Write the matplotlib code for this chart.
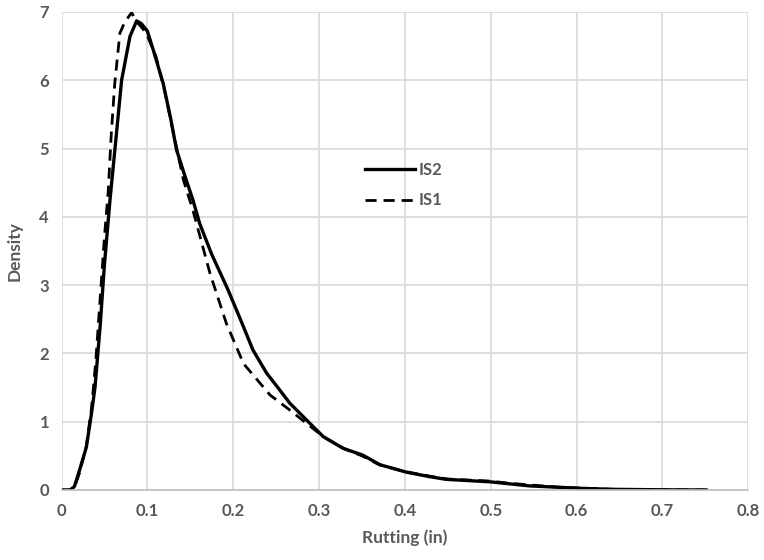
import numpy as np
import matplotlib.pyplot as plt

# IS2 (solid) density curve
is2_x = [0, 0.01, 0.015, 0.021, 0.029, 0.035, 0.039, 0.045, 0.05, 0.0565, 0.0623, 0.070,
         0.0797, 0.0875, 0.093, 0.1, 0.107, 0.1185, 0.127, 0.134, 0.145, 0.153, 0.161, 0.175,
         0.194, 0.21, 0.223, 0.239, 0.252, 0.266, 0.289, 0.305, 0.328, 0.351, 0.371,
         0.402, 0.429, 0.448, 0.499, 0.545, 0.604, 0.642, 0.70, 0.751]
is2_y = [0, 0, 0.05, 0.29, 0.63, 1.13, 1.5, 2.4, 3.3, 4.25, 5.0, 6.0,
         6.64, 6.87, 6.83, 6.72, 6.44, 5.95, 5.45, 4.98, 4.55, 4.25, 3.9, 3.45,
         2.93, 2.45, 2.05, 1.71, 1.5, 1.27, 0.98, 0.78, 0.61, 0.51, 0.37,
         0.26, 0.195, 0.156, 0.12, 0.06, 0.025, 0.01, 0.003, 0]

# IS1 (dashed) density curve
is1_x = [0, 0.01, 0.015, 0.021, 0.029, 0.035, 0.04, 0.045, 0.05, 0.0545, 0.058, 0.062,
         0.068, 0.074, 0.0817, 0.088, 0.095, 0.1, 0.11, 0.12, 0.13, 0.142, 0.153, 0.173,
         0.192, 0.212, 0.243, 0.266, 0.285, 0.305, 0.33, 0.35, 0.37, 0.40, 0.43, 0.45,
         0.50, 0.52, 0.55, 0.58, 0.60, 0.64, 0.70, 0.75]
is1_y = [0, 0, 0.04, 0.25, 0.65, 1.2, 1.9, 2.8, 3.7, 4.39, 5.22, 5.95,
         6.69, 6.86, 6.99, 6.85, 6.75, 6.65, 6.35, 5.85, 5.25, 4.54, 4.1, 3.17,
         2.44, 1.85, 1.39, 1.17, 0.98, 0.78, 0.6, 0.5, 0.37, 0.27, 0.2, 0.16,
         0.13, 0.1, 0.07, 0.04, 0.03, 0.01, 0.003, 0]

xticks = [0, 0.1, 0.2, 0.3, 0.4, 0.5, 0.6, 0.7, 0.8]
yticks = [0, 1, 2, 3, 4, 5, 6, 7]

plt.rcParams['font.family'] = ['Lato', 'DejaVu Sans']
txt = '#595959'

fig = plt.figure(figsize=(7.64, 5.6), dpi=100)
ax = fig.add_axes([0.0805, 0.125, 0.899, 0.8536])

ax.plot(is2_x, is2_y, color='black', lw=2.4, label='IS2', solid_joinstyle='round')
ax.plot(is1_x, is1_y, color='black', lw=2.0, ls=(0, (4, 2.5)), label='IS1')

ax.set_xlim(0, 0.8)
ax.set_ylim(0, 7)
ax.set_xticks(xticks)
ax.set_xticklabels(['0', '0.1', '0.2', '0.3', '0.4', '0.5', '0.6', '0.7', '0.8'])
ax.set_yticks(yticks)
ax.grid(True, color='#d9d9d9', lw=1.2)
ax.set_axisbelow(True)
for s in ['top', 'right', 'left']:
    ax.spines[s].set_visible(False)
ax.spines['bottom'].set_color('#bfbfbf')
ax.spines['bottom'].set_linewidth(1.2)
ax.tick_params(length=0, labelsize=12, labelcolor=txt, pad=9)
for lab in ax.get_xticklabels() + ax.get_yticklabels():
    lab.set_fontweight('bold')

ax.set_xlabel('Rutting (in)', fontsize=12.5, fontweight='bold', color=txt, labelpad=8)
ax.set_ylabel('Density', fontsize=12.5, fontweight='bold', color=txt, labelpad=12)

leg = ax.legend(loc='upper left', bbox_to_anchor=(0.42, 0.717), frameon=False,
                handlelength=3.0, fontsize=12, labelspacing=0.85, handletextpad=0.2)
for t in leg.get_texts():
    t.set_color(txt)
    t.set_fontweight('bold')

fig.savefig('out.png', dpi=100)
